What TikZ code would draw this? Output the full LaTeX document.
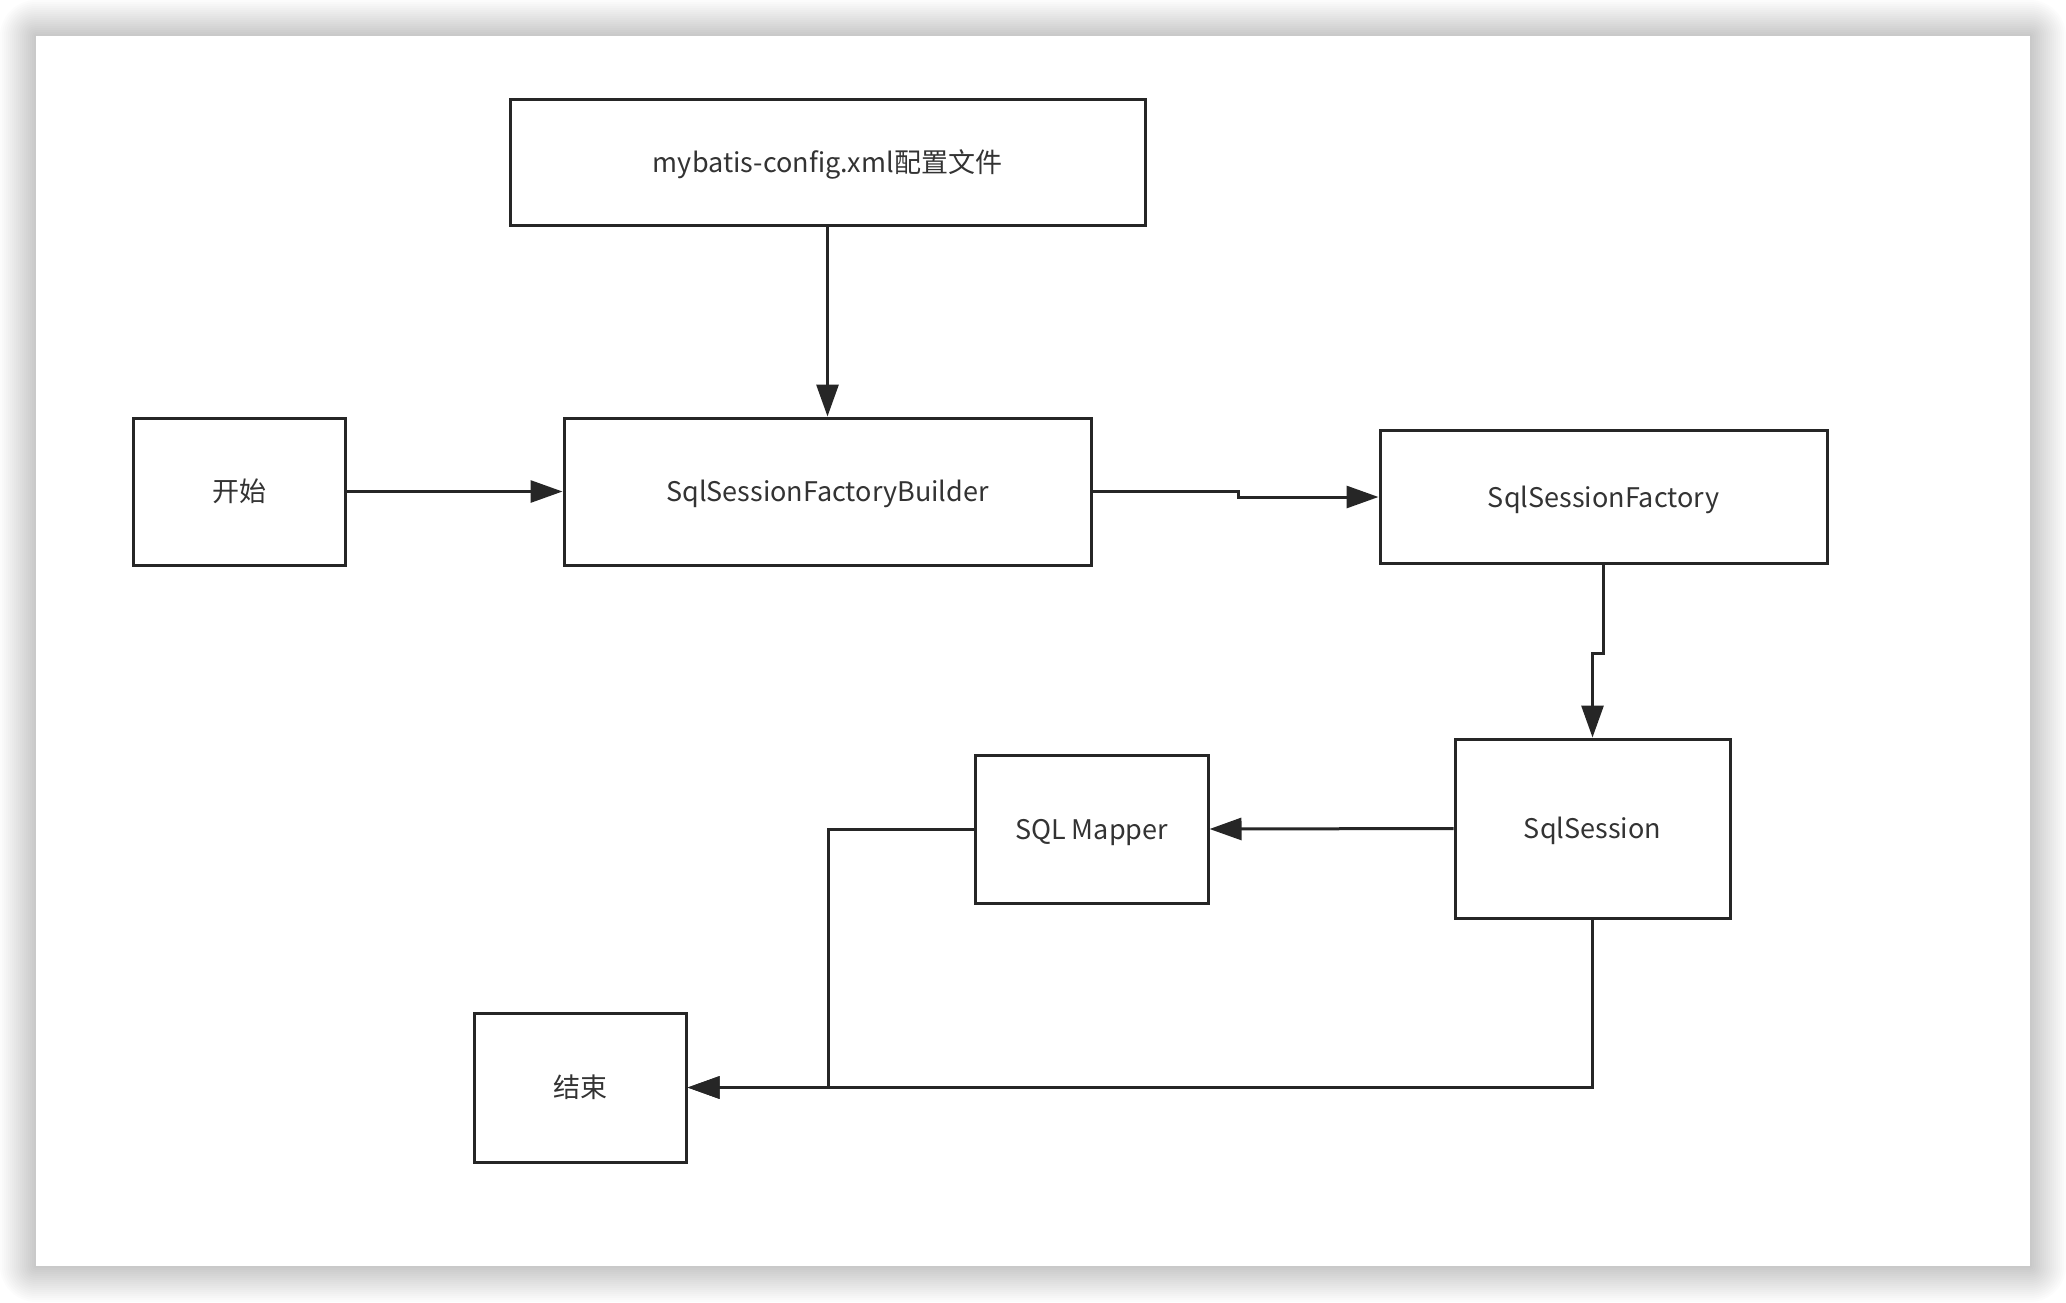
\documentclass[tikz,border=0pt]{standalone}
\usepackage{fontspec}
\setmainfont{Noto Sans CJK SC}
\usetikzlibrary{arrows.meta}
\definecolor{linec}{HTML}{262626}
\definecolor{textc}{HTML}{333333}
\tikzset{
  box/.style={draw=linec, line width=1.5pt, inner sep=0pt, text=textc,
    font=\fontsize{13.5}{16}\selectfont, text height=11pt, text depth=1pt},
  arr/.style={draw=linec, line width=1.5pt, -{Triangle[length=16pt,width=11pt]}},
}
\begin{document}
\begin{tikzpicture}[x=0.5pt,y=-0.5pt]
\useasboundingbox (0,0) rectangle (2066,1302);
\fill[white] (0,0) rectangle (2066,1302);
\foreach \i in {1,...,18}{
  \fill[black, opacity=0.011, rounded corners={\i pt}]
    ({36-2*\i},{36-2*\i}) rectangle ({2030+2*\i},{1266+2*\i});
}
\fill[white] (36,36) rectangle (2030,1266);

\node[box, minimum width=317.5pt, minimum height=63pt] (cfg) at (827.5,162) {mybatis-config.xml配置文件};
\node[box, minimum width=106pt, minimum height=73.5pt] (start) at (239,491.5) {开始};
\node[box, minimum width=263.5pt, minimum height=73.5pt] (bld) at (827.5,491.5) {SqlSessionFactoryBuilder};
\node[box, minimum width=223.5pt, minimum height=66.5pt] (fac) at (1603.5,497) {SqlSessionFactory};
\node[box, minimum width=137.5pt, minimum height=89.5pt] (ss) at (1592.5,828.5) {SqlSession};
\node[box, minimum width=116.5pt, minimum height=74pt] (map) at (1091.5,829) {SQL Mapper};
\node[box, minimum width=106pt, minimum height=74.5pt] (end) at (580,1087.5) {结束};

\draw[arr] (cfg.south) -- (bld.north);
\draw[arr] (start.east) -- (bld.west);
\draw[arr] (bld.east) -- ++(146,0) |- (fac.west);
\draw[arr] (fac.south) -- ++(0,88) -| (ss.north);
\draw[arr] (ss.west) -- (map.east);
\draw[arr] (map.west) -- ++(-145,0) |- (end.east);
\draw[arr] (ss.south) |- (end.east);
\end{tikzpicture}
\end{document}
